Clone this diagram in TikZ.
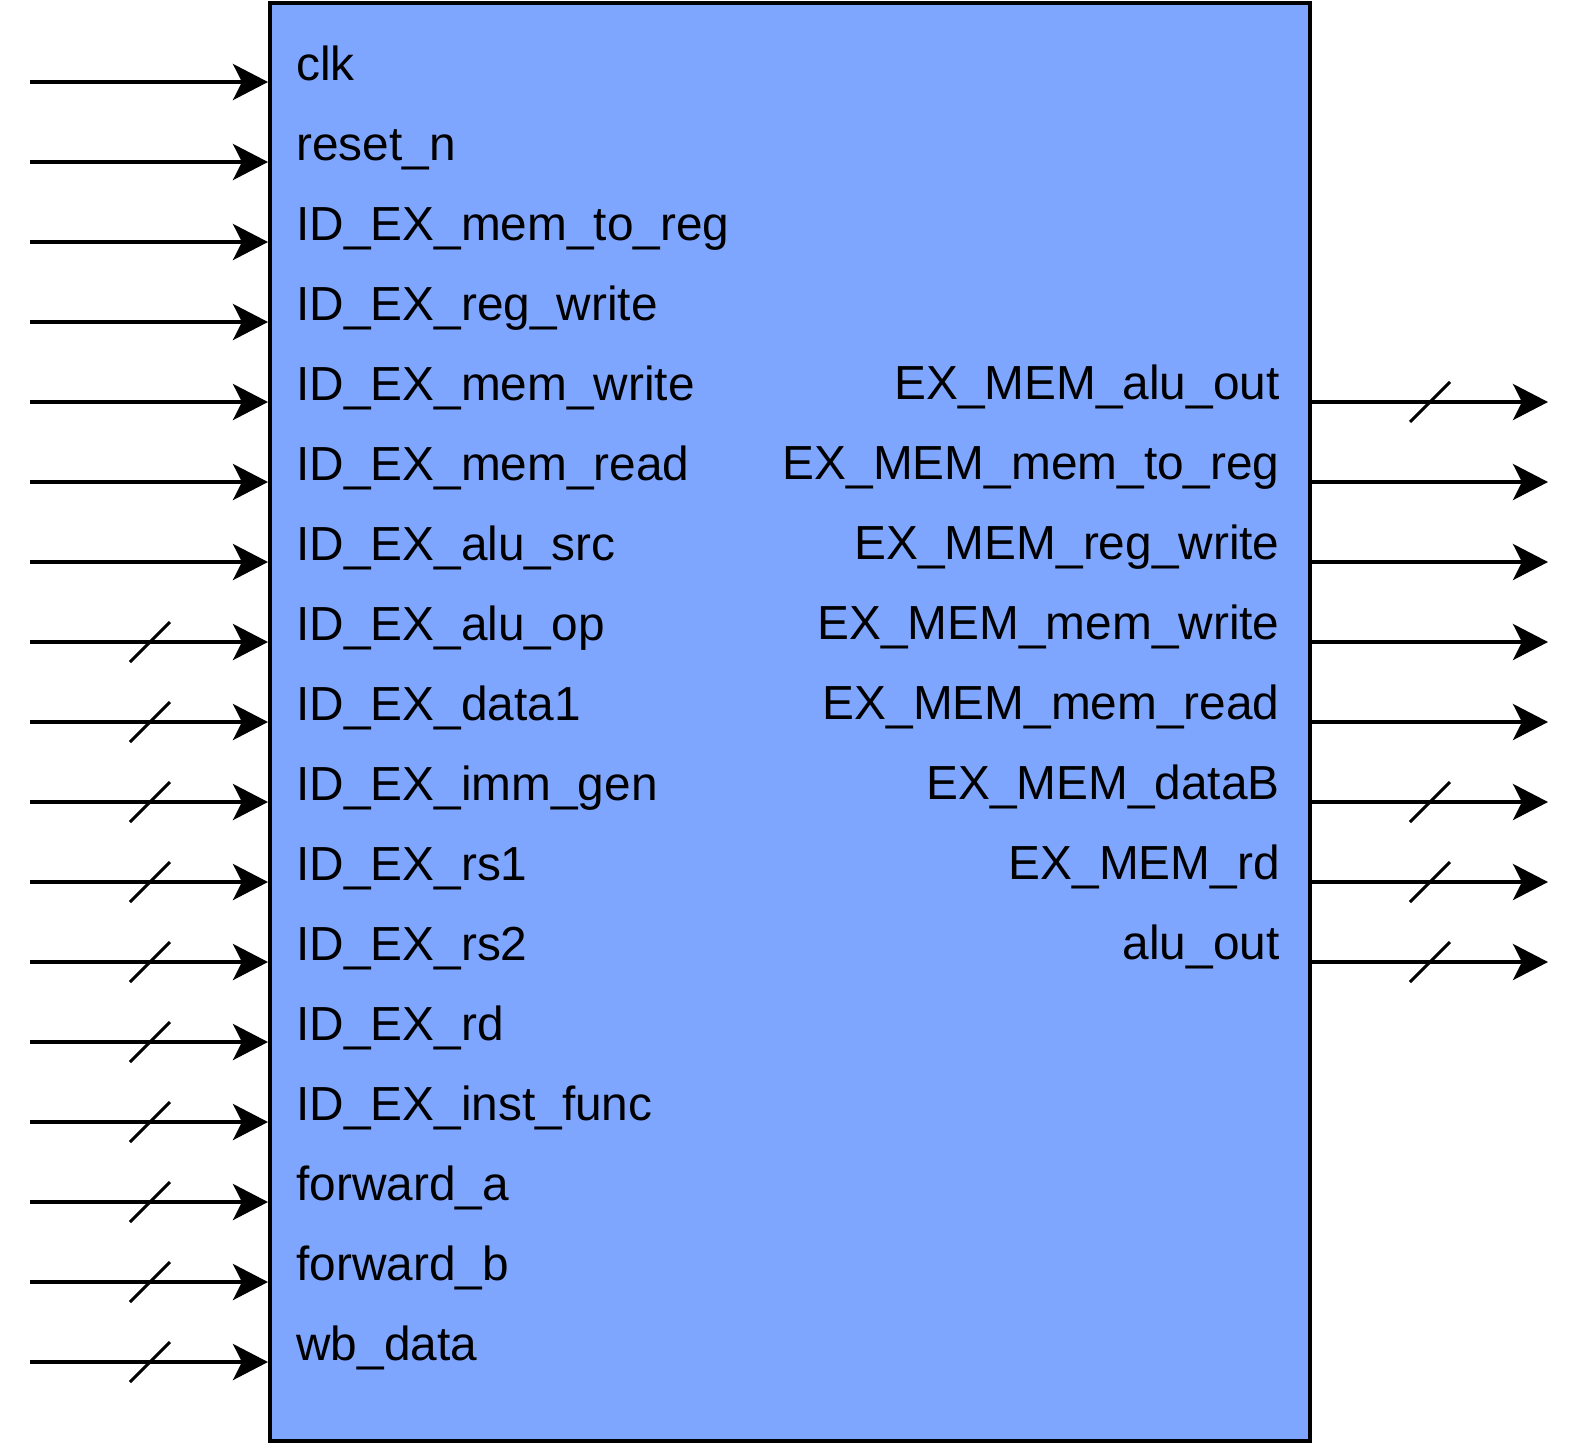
\documentclass[tikz,border=0pt]{standalone}
\usepackage{fontspec}
\setmainfont{Liberation Sans}
\usetikzlibrary{arrows.meta}
\definecolor{blkfill}{HTML}{7FA6FF}
\tikzset{
  sig/.style={line width=2pt, -{Stealth[length=17.5pt,width=18pt,inset=4.5pt]}},
  bus/.style={line width=1.5pt},
  portl/.style={anchor=base west, inner sep=0pt},
  portr/.style={anchor=base east, inner sep=0pt}
}
\begin{document}
\begin{tikzpicture}[x=0.5pt,y=-0.5pt,font=\fontsize{23.9pt}{28pt}\selectfont]
        \useasboundingbox (0,0) rectangle (1584,1448);
        \node [draw, line width=2pt, fill=blkfill, minimum width=520pt, minimum height=719pt, inner sep=0pt] (blk) at (790,722) {};
        \foreach \lbl/\w [count=\i from 0] in {clk/0, reset\_n/0, ID\_EX\_mem\_to\_reg/0, ID\_EX\_reg\_write/0,
            ID\_EX\_mem\_write/0, ID\_EX\_mem\_read/0, ID\_EX\_alu\_src/0, ID\_EX\_alu\_op/1, ID\_EX\_data1/1,
            ID\_EX\_imm\_gen/1, ID\_EX\_rs1/1, ID\_EX\_rs2/1, ID\_EX\_rd/1, ID\_EX\_inst\_func/1,
            forward\_a/1, forward\_b/1, wb\_data/1}{
          \coordinate (in\i) at (30,{82+80*\i});
          \node [portl] (pin\i) at (296,{80+80*\i}) {\lbl};
          \draw [sig] (in\i) -- (in\i -| blk.west);
          \ifnum\w=1 \draw [bus] (130,{102+80*\i}) -- (170,{62+80*\i}); \fi
        }
        \foreach \lbl/\w [count=\i from 4] in {EX\_MEM\_alu\_out/1, EX\_MEM\_mem\_to\_reg/0, EX\_MEM\_reg\_write/0,
            EX\_MEM\_mem\_write/0, EX\_MEM\_mem\_read/0, EX\_MEM\_dataB/1, EX\_MEM\_rd/1, alu\_out/1}{
          \coordinate (out\i) at (1548,{82+80*\i});
          \node [portr] (pout\i) at (1280,{79+80*\i}) {\lbl};
          \draw [sig] (out\i -| blk.east) -- (out\i);
          \ifnum\w=1 \draw [bus] (1410,{102+80*\i}) -- (1450,{62+80*\i}); \fi
        }
      \end{tikzpicture}
\end{document}
